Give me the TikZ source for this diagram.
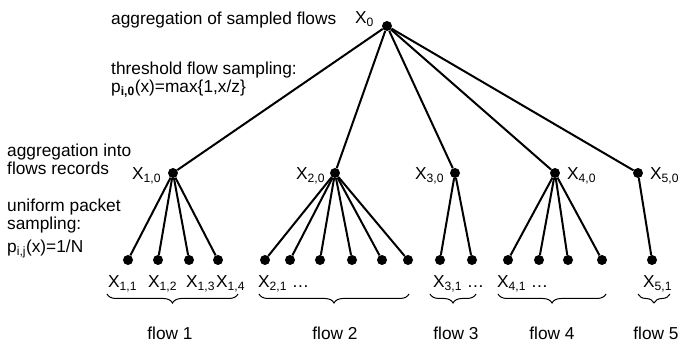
\documentclass[tikz,border=0pt]{standalone}
\usepackage{fontspec}
\setmainfont{Liberation Sans}
\usetikzlibrary{decorations.pathreplacing}
\tikzset{
  dot/.style={circle,fill=black,inner sep=0pt,minimum size=10pt},
  edge/.style={line width=2pt},
  txt/.style={anchor=base west,inner sep=0pt,font=\fontsize{17.3}{20}\selectfont},
  ctxt/.style={anchor=base,inner sep=0pt,font=\fontsize{17.3}{20}\selectfont},
  brc/.style={decorate,decoration={brace,mirror,amplitude=9pt},line width=1pt}
}
\begin{document}
\begin{tikzpicture}[x=1pt,y=-1pt]
\useasboundingbox (0,0) rectangle (681,352);
% left texts
\node[txt] (t1) at (111,25) {aggregation of sampled flows};
\node[txt] (t2) at (111,75) {threshold flow sampling:};
\node[txt] (t3) at (111,93) {p\textsubscript{\textbf{i,0}}(x)=max\{1,x/z\}};
\node[txt] (t4) at (7,157) {aggregation into};
\node[txt] (t5) at (7,175) {flows records};
\node[txt] (t6) at (7,212) {uniform packet};
\node[txt] (t7) at (7,230) {sampling:};
\node[txt] (t8) at (7,253) {p\textsubscript{i,j}(x)=1/N};
% root
\node[dot] (r) at (387,26) {};
\node[txt] (lr) at (355,24) {X\textsubscript{0}};
% level 1
\node[dot] (a1) at (173,173) {};
\node[dot] (a2) at (335,173) {};
\node[dot] (a3) at (455,173) {};
\node[dot] (a4) at (555,173) {};
\node[dot] (a5) at (638,173) {};
\node[txt] (la1) at (132,180) {X\textsubscript{1,0}};
\node[txt] (la2) at (296,180) {X\textsubscript{2,0}};
\node[txt] (la3) at (415,180) {X\textsubscript{3,0}};
\node[txt] (la4) at (567,180) {X\textsubscript{4,0}};
\node[txt] (la5) at (650,180) {X\textsubscript{5,0}};
\foreach \i in {1,...,5} \draw[edge] (r) -- (a\i);
% leaves
\foreach \n/\x/\p in {b11/128/a1,b12/158/a1,b13/189/a1,b14/218/a1,
  b21/265/a2,b22/290/a2,b23/320/a2,b24/352/a2,b25/382/a2,b26/408/a2,
  b31/440/a3,b32/472/a3,
  b41/508/a4,b42/539/a4,b43/568/a4,b44/602/a4,
  b51/652/a5}{
  \node[dot] (\n) at (\x,260) {};
  \draw[edge] (\p) -- (\n);
}
% leaf labels
\node[txt] (l11) at (108,288) {X\textsubscript{1,1}};
\node[txt] (l12) at (148,288) {X\textsubscript{1,2}};
\node[txt] (l13) at (186,288) {X\textsubscript{1,3}};
\node[txt] (l14) at (216,288) {X\textsubscript{1,4}};
\node[txt] (l21) at (258,288) {X\textsubscript{2,1} \dots};
\node[txt] (l31) at (433,288) {X\textsubscript{3,1} \dots};
\node[txt] (l41) at (497,288) {X\textsubscript{4,1} \dots};
\node[txt] (l51) at (643,288) {X\textsubscript{5,1}};
% braces
\coordinate (c1a) at (107,294); \coordinate (c1b) at (238,294);
\coordinate (c2a) at (259,294); \coordinate (c2b) at (409,294);
\coordinate (c3a) at (430,294); \coordinate (c3b) at (476,294);
\coordinate (c4a) at (498,294); \coordinate (c4b) at (606,294);
\coordinate (c5a) at (638,294); \coordinate (c5b) at (670,294);
\foreach \k in {1,...,5} \draw[brc] (c\k a) -- (c\k b);
% flow labels
\node[ctxt] (f1) at (170,340) {flow 1};
\node[ctxt] (f2) at (335,340) {flow 2};
\node[ctxt] (f3) at (456,340) {flow 3};
\node[ctxt] (f4) at (552,340) {flow 4};
\node[ctxt] (f5) at (656,340) {flow 5};
\end{tikzpicture}
\end{document}
